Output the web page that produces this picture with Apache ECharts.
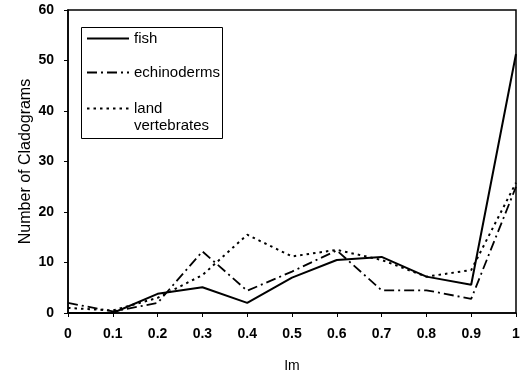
<!DOCTYPE html>
<html>
<head>
<meta charset="utf-8">
<script src="https://cdn.jsdelivr.net/npm/echarts@6/dist/echarts.min.js"></script>
<style>
  html, body { margin: 0; padding: 0; background: #fff; }
  #chart { width: 522px; height: 374px; }
</style>
</head>
<body>
<div id="chart"></div>
<script>
// Im values along the x axis
const imValues = [0, 0.1, 0.2, 0.3, 0.4, 0.5, 0.6, 0.7, 0.8, 0.9, 1];
// Number of cladograms per group
const fish = [0, 0, 3.8, 5.1, 2, 7, 10.5, 11.1, 7.2, 5.6, 51.3];
const echinoderms = [2, 0.3, 2, 12.2, 4.4, 8.2, 12.4, 4.5, 4.5, 2.8, 25];
const landVertebrates = [1, 0.5, 3, 7.5, 15.5, 11.2, 12.5, 10.5, 7.2, 8.5, 25.8];
const seriesNames = ['fish', 'echinoderms', 'land\nvertebrates'];

const FONT = '"Liberation Sans", Arial, sans-serif';
const pairs = vals => imValues.map((x, i) => [x, vals[i]]);

const chart = echarts.init(document.getElementById('chart'), null, { renderer: 'canvas' });

// one legend block per entry so the two-line label can hang below its key line
const legendBase = {
  orient: 'vertical',
  left: 81,
  itemWidth: 42,
  itemHeight: 14,
  selectedMode: false,
  itemStyle: { opacity: 0 },
  textStyle: { fontFamily: FONT, fontSize: 15, color: '#000', lineHeight: 17 }
};

chart.setOption({
  backgroundColor: '#fff',
  animation: false,
  grid: {
    left: 68, right: 6, top: 10, bottom: 61,
    outerBoundsMode: 'none',
    show: true, borderColor: '#000', borderWidth: 1.5, backgroundColor: 'transparent'
  },
  legend: [
    Object.assign({}, legendBase, { top: 25, data: [seriesNames[0]] }),
    Object.assign({}, legendBase, { top: 59, data: [seriesNames[1]] }),
    Object.assign({}, legendBase, {
      top: 78, data: [seriesNames[2]],
      // blank first line keeps "land" level with the key line
      formatter: name => ' \n' + name
    })
  ],
  graphic: [{
    type: 'rect',
    shape: { x: 81.5, y: 27.5, width: 141, height: 111 },
    style: { fill: 'none', stroke: '#000', lineWidth: 1 },
    z: 10
  }],
  xAxis: {
    type: 'value',
    min: 0, max: 1, interval: 0.1,
    name: 'Im',
    nameLocation: 'middle',
    nameGap: 46,
    nameMoveOverlap: false,
    nameTextStyle: { fontFamily: FONT, fontSize: 14, color: '#000' },
    axisLine: { show: true, lineStyle: { color: '#000', width: 1.5 } },
    axisTick: { show: true, length: 4, lineStyle: { color: '#000', width: 1 } },
    axisLabel: {
      margin: 14,
      fontFamily: FONT, fontSize: 14, fontWeight: 'bold', color: '#000',
      formatter: v => String(+v.toFixed(1))
    },
    splitLine: { show: false }
  },
  yAxis: {
    type: 'value',
    min: 0, max: 60, interval: 10,
    name: 'Number of Cladograms',
    nameLocation: 'middle',
    nameGap: 34,
    nameMoveOverlap: false,
    nameTextStyle: { fontFamily: FONT, fontSize: 16, color: '#000' },
    axisLine: { show: true, lineStyle: { color: '#000', width: 1.5 } },
    axisTick: { show: true, length: 4, lineStyle: { color: '#000', width: 1 } },
    axisLabel: {
      margin: 14,
      fontFamily: FONT, fontSize: 14, fontWeight: 'bold', color: '#000'
    },
    splitLine: { show: false }
  },
  series: [
    {
      name: seriesNames[0], type: 'line', data: pairs(fish),
      symbol: 'none', showSymbol: false,
      lineStyle: { color: '#000', width: 2, type: 'solid' },
      itemStyle: { color: '#000' }
    },
    {
      name: seriesNames[1], type: 'line', data: pairs(echinoderms),
      symbol: 'none', showSymbol: false,
      lineStyle: { color: '#000', width: 1.8, type: [10, 4, 2, 4] },
      itemStyle: { color: '#000' }
    },
    {
      name: seriesNames[2], type: 'line', data: pairs(landVertebrates),
      symbol: 'none', showSymbol: false,
      lineStyle: { color: '#000', width: 2, type: [2.5, 4] },
      itemStyle: { color: '#000' }
    }
  ]
});
</script>
</body>
</html>
